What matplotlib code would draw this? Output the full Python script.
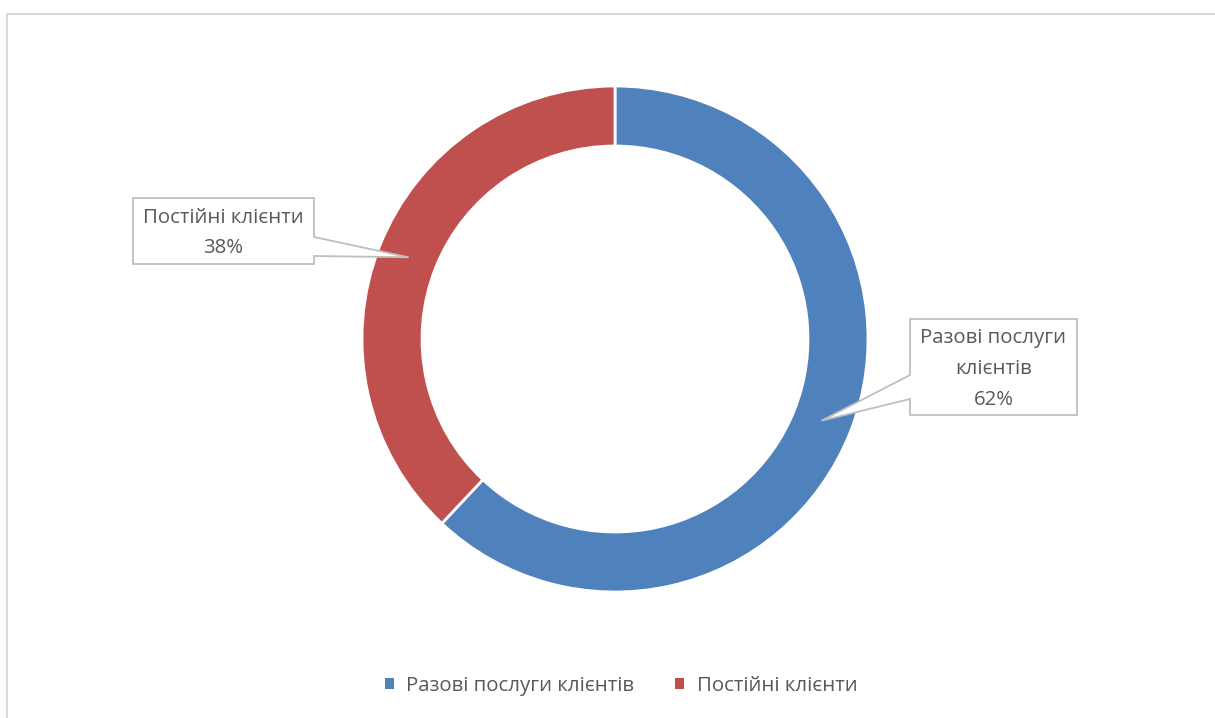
import numpy as np
import matplotlib.pyplot as plt
from matplotlib.patches import Patch, Polygon
from matplotlib.lines import Line2D

labels = ["Разові послуги клієнтів", "Постійні клієнти"]
box_labels = ["Разові послуги\nклієнтів", "Постійні клієнти"]
values = [62, 38]
colors = ["#4F81BD", "#C0504D"]

plt.rcParams["font.family"] = ["Open Sans", "DejaVu Sans"]
TEXT = "#595959"
EDGE = "#BFBFBF"

W, H = 1215, 718
fig = plt.figure(figsize=(W / 100, H / 100), dpi=100)
ax = fig.add_axes([0, 0, 1, 1])

# chart frame (top and left edges visible)
ax.add_line(Line2D([7, W], [H - 14, H - 14], color="#D9D9D9", lw=1.5))
ax.add_line(Line2D([7, 7], [0, H - 14], color="#D9D9D9", lw=1.5))

cx, cy = 615, H - 339
r_out, ring = 253, 60
wedges, _ = ax.pie(
    values,
    colors=colors,
    startangle=90,
    counterclock=False,
    center=(cx, cy),
    radius=r_out,
    wedgeprops=dict(width=ring, edgecolor="white", linewidth=2),
    frame=True,
)
ax.set_xlim(0, W)
ax.set_ylim(0, H)
ax.set_aspect("equal")
ax.axis("off")

# callout boxes in pixels from the top-left, side where the pointer attaches
boxes = [
    dict(l=910, t=319, r=1077, b=415, side="left", p1=375, p2=399),
    dict(l=133, t=198, r=314, b=264, side="right", p1=237, p2=256),
]
r_mid = r_out - ring / 2 - 1
for w, val, txt, bx in zip(wedges, values, box_labels, boxes):
    ang = np.deg2rad((w.theta1 + w.theta2) / 2)
    tip = (cx + r_mid * np.cos(ang), cy + r_mid * np.sin(ang))
    l, r, t, b = bx["l"], bx["r"], H - bx["t"], H - bx["b"]
    p1, p2 = H - bx["p1"], H - bx["p2"]
    if bx["side"] == "left":
        pts = [(l, t), (r, t), (r, b), (l, b), (l, p2), tip, (l, p1)]
    else:
        pts = [(l, t), (r, t), (r, p1), tip, (r, p2), (r, b), (l, b)]
    ax.add_patch(Polygon(pts, closed=True, facecolor="white", edgecolor=EDGE, lw=1.3, zorder=5))
    ax.text((l + r) / 2, (t + b) / 2 - 2, f"{txt}\n{val}%", ha="center", va="center",
            fontsize=14.7, color=TEXT, linespacing=1.72, zorder=6)

handles = [Patch(facecolor=c, edgecolor="none") for c in colors]
ax.legend(handles, labels, loc="center", bbox_to_anchor=(621 / W, 1 - 686 / H),
          ncol=2, frameon=False, fontsize=14.7, labelcolor=TEXT,
          handlelength=0.45, handleheight=0.45, handletextpad=0.6, columnspacing=2.0)

fig.savefig("out.png", dpi=100, facecolor="white")
